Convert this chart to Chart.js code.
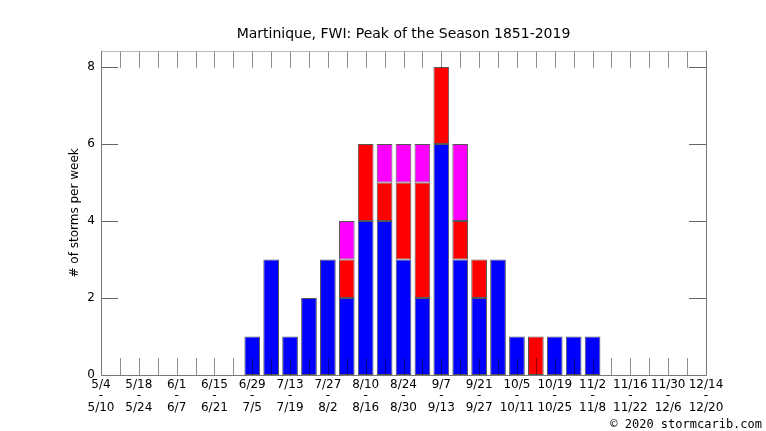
<!DOCTYPE html>
<html>
<head>
<meta charset="utf-8">
<script src="https://cdn.jsdelivr.net/npm/chart.js@4/dist/chart.umd.min.js"></script>
<style>
  body { margin: 0; background: #fff; }
  canvas { display: block; }
</style>
</head>
<body>
<canvas id="chart" width="766" height="431"></canvas>
<script>
// Week start / end dates (one entry per week)
const weekStart = ['5/4', '5/11', '5/18', '5/25', '6/1', '6/8', '6/15', '6/22', '6/29', '7/6', '7/13',
    '7/20', '7/27', '8/3', '8/10', '8/17', '8/24', '8/31', '9/7', '9/14', '9/21', '9/28', '10/5',
    '10/12', '10/19', '10/26', '11/2', '11/9', '11/16', '11/23', '11/30', '12/7', '12/14'];
const weekEnd = ['5/10', '5/17', '5/24', '5/31', '6/7', '6/14', '6/21', '6/28', '7/5', '7/12', '7/19',
    '7/26', '8/2', '8/9', '8/16', '8/23', '8/30', '9/6', '9/13', '9/20', '9/27', '10/4', '10/11',
    '10/18', '10/25', '11/1', '11/8', '11/15', '11/22', '11/29', '12/6', '12/13', '12/20'];

// Storm counts per week, stacked blue / red / magenta
const blueCounts = [0, 0, 0, 0, 0, 0, 0, 0, 1, 3, 1, 2, 3, 2, 4, 4, 3, 2, 6, 3, 2, 3, 1, 0, 1, 1, 1, 0, 0, 0, 0, 0, 0];
const redCounts = [0, 0, 0, 0, 0, 0, 0, 0, 0, 0, 0, 0, 0, 1, 2, 1, 2, 3, 2, 1, 1, 0, 0, 1, 0, 0, 0, 0, 0, 0, 0, 0, 0];
const magentaCounts = [0, 0, 0, 0, 0, 0, 0, 0, 0, 0, 0, 0, 0, 1, 0, 1, 1, 1, 0, 2, 0, 0, 0, 0, 0, 0, 0, 0, 0, 0, 0, 0, 0];

const yTicks = [0, 2, 4, 6, 8];
const FONT = 'DejaVu Sans';

// Draw frame, inward tick marks and the copyright line
const framePlugin = {
    id: 'frame',
    afterDatasetsDraw(chart) {
        const { ctx, chartArea: a, scales: { x, y } } = chart;
        const line = (x1, y1, x2, y2) => {
            ctx.beginPath();
            ctx.moveTo(x1, y1);
            ctx.lineTo(x2, y2);
            ctx.stroke();
        };
        ctx.save();
        ctx.lineWidth = 1;

        // week ticks, top and bottom
        ctx.strokeStyle = 'rgba(0,0,0,0.45)';
        x.ticks.forEach((t, i) => {
            const px = Math.round(x.getPixelForTick(i)) + 0.5;
            line(px, a.bottom, px, a.bottom - 17);
            line(px, a.top, px, a.top + 17);
        });

        // value ticks, left and right
        ctx.strokeStyle = '#666';
        yTicks.slice(1).forEach(v => {
            const py = Math.round(y.getPixelForValue(v)) + 0.5;
            line(a.left, py, a.left + 17, py);
            line(a.right - 17, py, a.right, py);
        });

        // frame
        const l = Math.round(a.left) + 0.5, r = Math.round(a.right) + 0.5;
        const t = Math.round(a.top) + 0.5, b = Math.round(a.bottom) + 0.5;
        ctx.strokeStyle = '#bbb';
        line(l, t, r, t);
        ctx.strokeStyle = '#777';
        line(l, t, l, b);
        line(r, t, r, b);
        line(l, b, r, b);

        ctx.fillStyle = '#000';
        ctx.font = '12px "DejaVu Sans Mono"';
        ctx.textAlign = 'right';
        ctx.textBaseline = 'middle';
        ctx.fillText('\u00a9 2020 stormcarib.com', 762, 425);
        ctx.restore();
    }
};

const makeSet = (label, counts, color) => ({
    label: label,
    data: counts.map(v => v || null),
    backgroundColor: color,
    borderColor: '#555',
    borderWidth: 1,
    borderSkipped: false,
    categoryPercentage: 1,
    barPercentage: 0.83
});

new Chart(document.getElementById('chart'), {
    type: 'bar',
    data: {
        labels: weekStart,
        datasets: [
            makeSet('blue', blueCounts, '#0000ff'),
            makeSet('red', redCounts, '#ff0000'),
            makeSet('magenta', magentaCounts, '#ff00ff')
        ]
    },
    options: {
        responsive: false,
        animation: false,
        layout: { padding: { left: 0, right: 60, top: 0, bottom: 0 } },
        plugins: {
            legend: { display: false },
            tooltip: { enabled: false },
            title: {
                display: true,
                fullSize: false,
                text: 'Martinique, FWI: Peak of the Season 1851-2019',
                color: '#000',
                font: { family: FONT, size: 14, weight: 'normal' },
                padding: { top: 26, bottom: 8 }
            }
        },
        scales: {
            x: {
                stacked: true,
                offset: false,
                grid: { display: false, drawTicks: false },
                border: { display: false },
                ticks: {
                    autoSkip: false,
                    maxRotation: 0,
                    padding: 4,
                    color: '#000',
                    font: { family: FONT, size: 12, lineHeight: 0.95 },
                    callback: (value, index) => index % 2 === 0 ? [weekStart[index], '-', weekEnd[index]] : ''
                },
                afterFit: scale => { scale.height = 56; }
            },
            y: {
                stacked: true,
                min: 0,
                max: 8.42,
                grid: { display: false, drawTicks: false },
                border: { display: false },
                ticks: {
                    padding: 6,
                    color: '#000',
                    font: { family: FONT, size: 12 }
                },
                afterBuildTicks: scale => { scale.ticks = yTicks.map(v => ({ value: v })); },
                title: {
                    display: true,
                    text: '# of storms per week',
                    color: '#000',
                    font: { family: FONT, size: 12 },
                    padding: { top: 68, bottom: 0 }
                },
                afterFit: scale => { scale.width = 101; }
            }
        }
    },
    plugins: [framePlugin]
});
</script>
</body>
</html>
